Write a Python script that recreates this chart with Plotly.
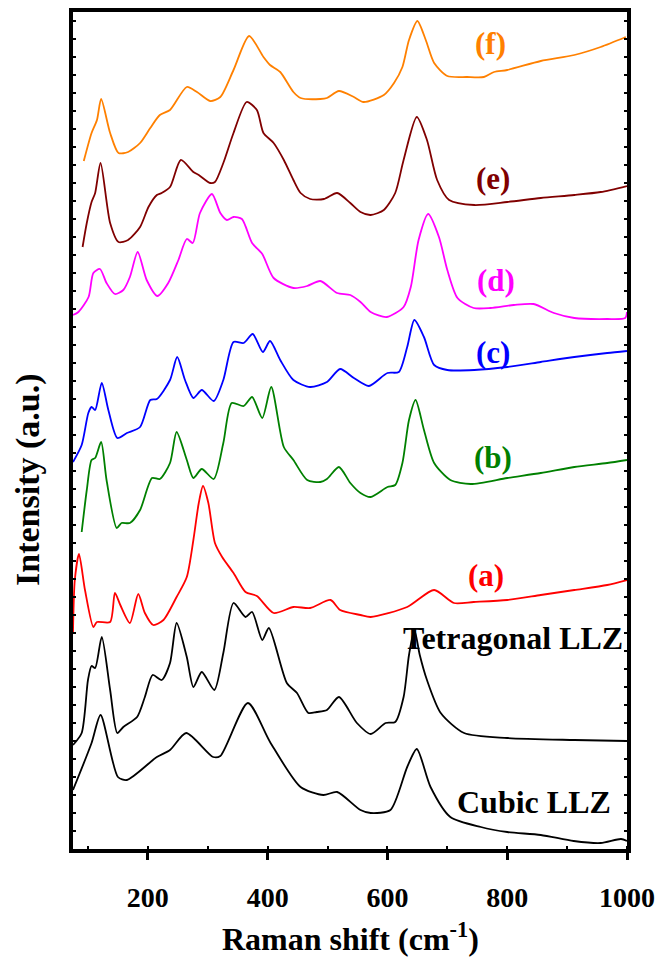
import plotly.graph_objects as go

# Raman shift (cm-1) and intensity (a.u., stacked offsets as drawn)
cubic_x = [75, 106, 121, 150, 165, 215, 237, 264, 309, 321, 367, 404, 455, 493, 516, 555, 572, 605, 633, 649, 672, 705, 756, 800, 856, 911, 956, 990, 1000]
cubic_y = [59, 106, 134, 72, 69, 92, 99, 116, 92, 93, 146, 107, 62, 54, 57, 39, 36, 39, 82, 100, 62, 32, 22, 17, 14, 8, 6, 10, 8]

tetra_x = [75, 89.5, 100, 106, 112, 123, 137, 149, 159, 182, 195, 208, 223, 237, 248, 265, 276, 290, 311, 326, 343, 363, 374, 391, 402, 432, 449, 468, 482, 499, 519, 549, 572, 597, 613, 627, 636, 645, 654, 666, 689, 728, 800, 912, 1000]
tetra_y = [104, 116, 169, 183, 181, 212, 159, 116, 122, 132, 152, 174, 169, 186, 226, 192, 162, 177, 159, 196, 246, 232, 237, 209, 221, 166, 156, 136, 137, 139, 152, 126, 115, 126, 127, 152, 194, 219, 194, 169, 136, 116, 111, 109, 108]

a_x = [75, 78, 85, 95, 109, 115, 137, 145, 154, 170, 184, 195, 209, 226, 248, 265, 276, 285, 292, 301, 312, 324, 343, 363, 382, 410, 443, 471, 505, 521, 555, 572, 633, 678, 711, 744, 800, 856, 912, 967, 1000]
a_y = [217, 269, 295, 259, 222, 227, 227, 256, 244, 226, 255, 236, 224, 229, 252, 272, 309, 346, 363, 346, 306, 292, 276, 257, 253, 236, 242, 241, 249, 239, 234, 232, 242, 259, 246, 247, 249, 254, 259, 264, 269]

b_x = [89.5, 98, 106, 112, 122, 131, 148, 156, 170, 187, 207, 220, 237, 248, 265, 276, 290, 310, 326, 340, 360, 374, 391, 406, 427, 443, 466, 488, 499, 519, 538, 555, 572, 600, 613, 625, 636, 647, 661, 678, 705, 739, 800, 856, 912, 967, 1000]
b_y = [317, 359, 389, 391, 407, 369, 321, 326, 326, 339, 371, 370, 386, 417, 389, 371, 380, 370, 406, 446, 443, 452, 431, 462, 402, 389, 369, 367, 370, 382, 366, 356, 352, 362, 364, 386, 429, 449, 419, 386, 369, 365, 371, 376, 382, 386, 389]

c_x = [75, 89.5, 100.6, 106, 112, 123, 134, 149, 165, 187, 204, 215, 237, 249, 262, 276, 290, 310, 326, 343, 360, 375, 392, 404, 421, 443, 471, 499, 521, 544, 569, 600, 619, 633, 645, 661, 678, 700, 745, 800, 856, 912, 967, 1000]
c_y = [387, 404, 436, 442, 439, 466, 439, 411, 416, 422, 449, 450, 469, 492, 469, 451, 459, 448, 469, 507, 506, 515, 497, 508, 489, 469, 462, 467, 480, 471, 463, 476, 477, 502, 529, 512, 484, 479, 479, 482, 487, 492, 496, 498]

d_x = [75, 84, 101, 109, 120, 131, 145, 159, 170, 183, 198, 216, 234, 251, 265, 275, 287, 307, 321, 332, 343, 357, 374, 391, 410, 443, 466, 488, 516, 538, 555, 572, 599, 627, 639, 652, 668, 686, 700, 717, 744, 772, 811, 844, 878, 912, 967, 997, 1000]
d_y = [534, 537, 552, 576, 580, 566, 555, 559, 572, 597, 569, 553, 566, 589, 610, 606, 636, 655, 636, 629, 632, 630, 606, 595, 571, 561, 563, 568, 556, 554, 547, 537, 532, 542, 562, 609, 635, 612, 579, 551, 541, 541, 544, 545, 536, 531, 530, 531, 537]

e_x = [91, 98, 106, 112, 121, 137, 151, 167, 187, 201, 215, 223, 237, 255, 276, 285, 304, 312, 326, 343, 365, 382, 393, 410, 427, 443, 455, 471, 494, 516, 538, 555, 572, 594, 613, 627, 649, 666, 683, 703, 745, 800, 856, 912, 956, 1000]
e_y = [602, 626, 647, 656, 686, 626, 607, 609, 622, 642, 654, 656, 662, 689, 677, 674, 666, 667, 686, 716, 747, 739, 716, 706, 689, 669, 656, 650, 650, 656, 646, 637, 634, 639, 656, 689, 732, 709, 669, 649, 644, 647, 651, 654, 657, 663]

f_x = [93, 106, 115, 122, 137, 151, 167, 187, 204, 220, 237, 265, 282, 304, 321, 343, 369, 393, 404, 421, 443, 455, 488, 499, 519, 544, 560, 594, 611, 625, 636, 650, 664, 678, 700, 733, 761, 778, 800, 856, 912, 956, 998]
f_y = [688, 716, 729, 750, 716, 696, 697, 706, 721, 734, 739, 762, 757, 748, 752, 779, 813, 792, 784, 777, 757, 751, 750, 751, 758, 752, 747, 754, 766, 782, 809, 828, 809, 786, 773, 772, 772, 777, 779, 788, 794, 802, 812]

series = [
    ("Cubic LLZ", cubic_x, cubic_y, "#000000"),
    ("Tetragonal LLZ", tetra_x, tetra_y, "#000000"),
    ("(a)", a_x, a_y, "#FF0000"),
    ("(b)", b_x, b_y, "#008000"),
    ("(c)", c_x, c_y, "#0000FF"),
    ("(d)", d_x, d_y, "#FF00FF"),
    ("(e)", e_x, e_y, "#800000"),
    ("(f)", f_x, f_y, "#FF8000"),
]

label_text = ["(f)", "(e)", "(d)", "(c)", "(b)", "(a)", "Tetragonal LLZ", "Cubic LLZ"]
label_x = [772, 777, 781, 776, 776, 764, 809, 844]
label_y = [806, 671, 569, 497, 392, 274, 211, 47]
label_color = ["#FF8000", "#800000", "#FF00FF", "#0000FF", "#008000", "#FF0000", "#000000", "#000000"]
label_size = [31, 31, 31, 31, 31, 31, 32, 32]

x_ticks = [200, 400, 600, 800, 1000]

FONT = "Liberation Serif, Times New Roman, serif"

fig = go.Figure()
for name, xs, ys, col in series:
    fig.add_trace(go.Scatter(x=xs, y=ys, mode="lines", name=name,
                             line=dict(color=col, width=1.8, shape="spline", smoothing=0.7),
                             showlegend=False))

for t, x, y, c, s in zip(label_text, label_x, label_y, label_color, label_size):
    fig.add_annotation(x=x, y=y, xref="x", yref="y", text=t, showarrow=False,
                       xanchor="center", yanchor="middle",
                       font=dict(family=FONT, size=s, color=c, weight="bold"))

fig.add_annotation(x=(350 - 73) / 554, y=-(937 - 849) / 837, xref="paper", yref="paper",
                   xanchor="center", yanchor="middle",
                   text="Raman shift (cm<sup>-1</sup>)", showarrow=False,
                   font=dict(family=FONT, size=32, color="black", weight="bold"))
fig.add_annotation(x=-(73 - 28) / 554, y=(849 - 480) / 837, xref="paper", yref="paper",
                   xanchor="center", yanchor="middle",
                   text="Intensity (a.u.)", showarrow=False, textangle=-90,
                   font=dict(family=FONT, size=34, color="black", weight="bold"))

fig.update_layout(
    width=660, height=960,
    margin=dict(l=73, r=33, t=12, b=111),
    paper_bgcolor="white", plot_bgcolor="white",
    xaxis=dict(range=[75, 1000], tickvals=x_ticks, ticks="outside", ticklen=7, tickwidth=3,
               tickcolor="black", showline=True, linewidth=3.5, linecolor="black", mirror=True,
               showgrid=False, zeroline=False, ticklabelstandoff=14, automargin=False,
               tickfont=dict(family=FONT, size=28, color="black", weight="bold"),
               minor=dict(dtick=100, tick0=0, ticks="inside", ticklen=3, tickwidth=1.5, tickcolor="black")),
    yaxis=dict(range=[0, 837], showticklabels=False, ticks="inside", ticklen=3, tickwidth=1.5,
               dtick=18, tickcolor="black", showline=True, linewidth=4, linecolor="black",
               mirror="allticks", showgrid=False, zeroline=False, automargin=False),
)

fig.write_html("out.html")
